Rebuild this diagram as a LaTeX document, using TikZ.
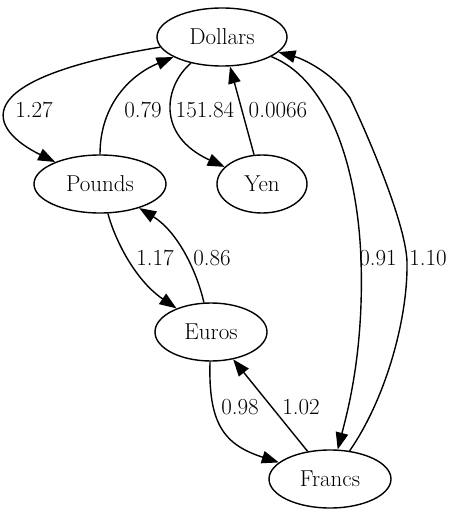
\documentclass[tikz,border=0pt]{standalone}
\usetikzlibrary{arrows.meta,shapes.geometric}
\begin{document}
\begin{tikzpicture}[x=1pt,y=-1pt,
  cur/.style={draw,ellipse,line width=1.4pt,inner sep=0pt,minimum height=58pt,
    text height=15pt,text depth=0pt,font=\fontsize{23}{27}\selectfont},
  conn/.style={line width=1.4pt,-{Triangle[length=17pt,width=12.5pt]}},
  lab/.style={inner sep=0pt,text height=15pt,text depth=0pt,font=\fontsize{23}{27}\selectfont}]
\useasboundingbox (0,0) rectangle (456,516);
\node[cur,minimum width=130pt] (d) at (222,37) {Dollars};
\node[cur,minimum width=132pt] (p) at (100,184) {Pounds};
\node[cur,minimum width=90pt] (y) at (262,184) {Yen};
\node[cur,minimum width=112pt] (e) at (211,332) {Euros};
\node[cur,minimum width=122pt] (f) at (330,479) {Francs};
% edges
\draw[conn] (d) .. controls (-40,80) and (-10,130) .. (p);
\draw[conn] (p) .. controls (100,105) and (130,75) .. (d);
\draw[conn] (d) .. controls (165,85) and (155,135) .. (y);
\draw[conn] (y) -- (d);
\draw[conn] (d) .. controls (330,80) and (358,170) .. (361,260) .. controls (364,350) and (348,410) .. (f);
\draw[conn] (f) .. controls (385,400) and (408,320) .. (407,262) .. controls (406,225) and (370,140) .. (350,98) .. controls (330,70) and (300,58) .. (d);
\draw[conn] (p) .. controls (115,240) and (135,280) .. (e);
\draw[conn] (e) .. controls (195,265) and (175,230) .. (p);
\draw[conn] (e) .. controls (208,425) and (225,445) .. (f);
\draw[conn] (f) -- (e);
% labels
\node[lab] (l127) at (34,110) {1.27};
\node[lab] (l079) at (143,110) {0.79};
\node[lab] (l15184) at (205,110) {151.84};
\node[lab] (l0066) at (278,110) {0.0066};
\node[lab] (l091) at (378,258) {0.91};
\node[lab] (l110) at (428,258) {1.10};
\node[lab] (l117) at (155,258) {1.17};
\node[lab] (l086) at (212,258) {0.86};
\node[lab] (l098) at (240,407) {0.98};
\node[lab] (l102) at (301,407) {1.02};
\end{tikzpicture}
\end{document}
